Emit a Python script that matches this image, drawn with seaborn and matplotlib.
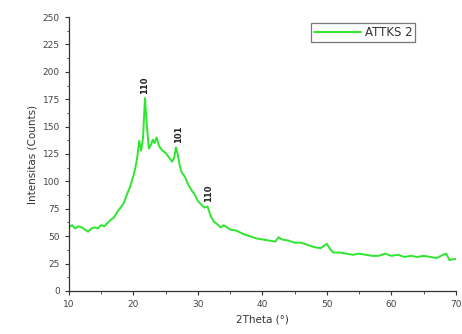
import matplotlib
matplotlib.use("Agg")
import matplotlib.pyplot as plt
import seaborn as sns
import pandas as pd
from matplotlib.ticker import MultipleLocator

two_theta = [10, 10.5, 11, 11.5, 12, 12.5, 13, 13.5, 14, 14.5, 15, 15.5, 16, 16.5, 17, 17.5,
             18, 18.5, 19, 19.5, 20, 20.3, 20.6, 20.9, 21.2, 21.5, 21.8, 22.1, 22.4, 22.7,
             23, 23.3, 23.6, 24, 24.5, 25, 25.5, 26, 26.3, 26.6, 26.9, 27.2, 27.5, 28, 28.5,
             29, 29.5, 30, 30.5, 31, 31.5, 32, 32.5, 33, 33.5, 34, 35, 36, 37, 38, 39, 40,
             41, 42, 42.5, 43, 44, 45, 46, 47, 48, 49, 49.5, 50, 50.5, 51, 52, 53, 54, 55,
             56, 57, 58, 59, 60, 61, 62, 63, 64, 65, 66, 67, 68, 68.5, 69, 69.5, 70]
counts = [58, 60, 57, 59, 58, 56, 54, 57, 58, 57, 60, 59, 62, 65, 67, 72,
          76, 80, 88, 95, 105, 112, 122, 137, 128, 140, 176, 150, 130, 133,
          138, 135, 140, 132, 128, 126, 122, 118, 121, 131, 124, 114, 108, 104, 97,
          92, 88, 82, 79, 76, 77, 68, 63, 61, 58, 60, 56, 55, 52, 50, 48, 47,
          46, 45, 49, 47, 46, 44, 44, 42, 40, 39, 41, 43, 38, 35, 35, 34, 33, 34,
          33, 32, 32, 34, 32, 33, 31, 32, 31, 32, 31, 30, 33, 34, 28, 29, 29]

peak_labels = ["110", "101", "110"]
peak_x = [21.8, 27.0, 31.6]
peak_y = [188, 143, 89]

df = pd.DataFrame({"2Theta": two_theta, "Counts": counts, "series": "ATTKS 2"})

sns.set_style("ticks")
plt.rcParams["font.family"] = ["DejaVu Sans"]

fig = plt.figure(figsize=(4.62, 3.34), dpi=100)
ax = fig.add_axes([0.149, 0.129, 0.838, 0.82])

sns.lineplot(data=df, x="2Theta", y="Counts", hue="series", palette=["#2ee62e"],
             linewidth=1.4, ax=ax)

for lab, xx, yy in zip(peak_labels, peak_x, peak_y):
    ax.text(xx, yy, lab, rotation=90, ha="center", va="center", fontsize=6,
            fontweight="bold", color="#222222")

ax.set_xlim(10, 70)
ax.set_ylim(0, 250)
ax.xaxis.set_major_locator(MultipleLocator(10))
ax.xaxis.set_minor_locator(MultipleLocator(5))
ax.yaxis.set_major_locator(MultipleLocator(25))
ax.yaxis.set_minor_locator(MultipleLocator(12.5))
ax.tick_params(axis="both", which="major", labelsize=6.5, labelcolor="#444444",
               direction="out", length=3, width=0.8, color="#333333")
ax.tick_params(axis="both", which="minor", direction="out", length=1.8, width=0.6,
               color="#333333")
for s in ["top", "right"]:
    ax.spines[s].set_visible(False)
for s in ["left", "bottom"]:
    ax.spines[s].set_linewidth(0.9)
    ax.spines[s].set_color("#333333")

ax.set_xlabel("2Theta (°)", fontsize=7.5, color="#333333")
ax.set_ylabel("Intensitas (Counts)", fontsize=7.5, color="#333333")

leg = ax.legend(loc="upper right", bbox_to_anchor=(0.91, 1.0), fontsize=8.5,
                frameon=True, fancybox=False, edgecolor="#555555", handlelength=4,
                borderpad=0.25, handletextpad=0.3)
leg.get_frame().set_linewidth(0.9)
for t in leg.get_texts():
    t.set_color("#333333")

fig.savefig("out.png", dpi=100)
